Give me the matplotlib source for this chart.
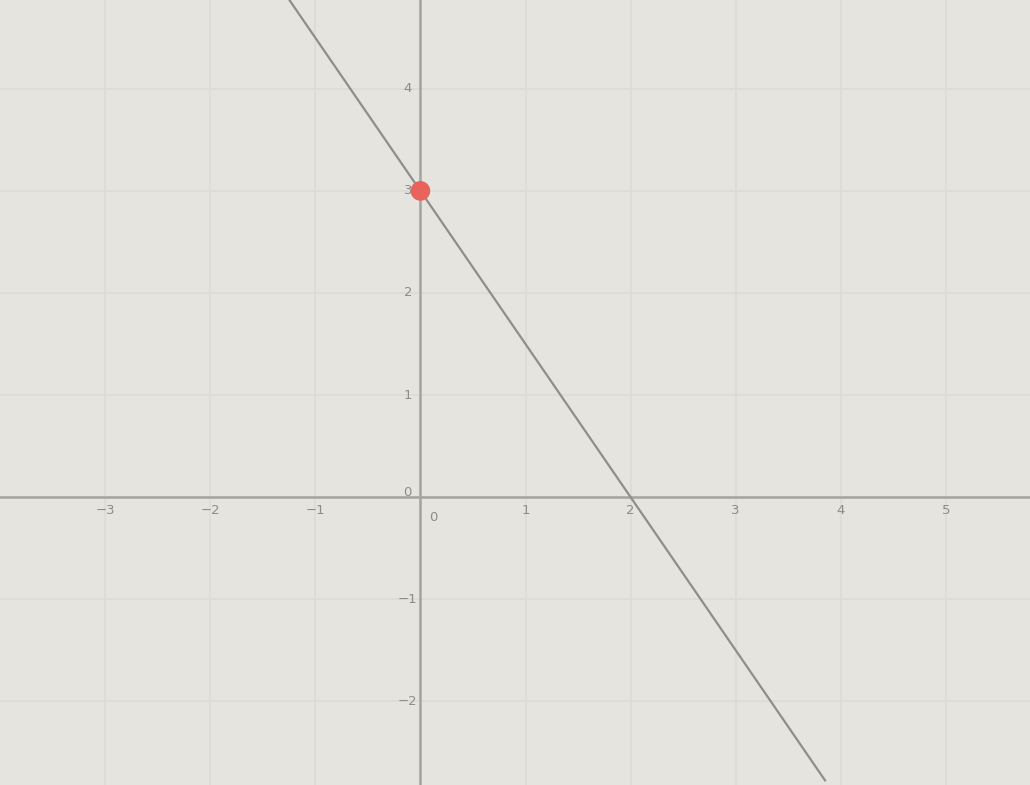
import matplotlib.pyplot as plt
import numpy as np

# data
x_ticks = [-3, -2, -1, 0, 1, 2, 3, 4, 5]
y_ticks = [-2, -1, 1, 2, 3, 4]
slope = -1.5
intercept = 3
line_x = [-1.25, 3.85]
point_x = [0]
point_y = [3]

bg = '#e5e4df'
grid_col = '#dcdcd7'
axis_col = '#a3a3a0'
text_col = '#8c8c8a'

fig = plt.figure(figsize=(10.3, 7.85), dpi=100)
fig.patch.set_facecolor(bg)
ax = fig.add_axes([0, 0, 1, 1])
ax.set_facecolor(bg)

ax.set_xlim(-4.0, 5.8)
ax.set_ylim(-2.82, 4.87)

# faint grid
for gx in range(-3, 6):
    ax.axvline(gx, color=grid_col, lw=1.2, zorder=1)
for gy in range(-2, 5):
    ax.axhline(gy, color=grid_col, lw=1.2, zorder=1)

# axes
ax.axhline(0, color=axis_col, lw=1.8, zorder=2)
ax.axvline(0, color=axis_col, lw=1.8, zorder=2)

for t in x_ticks:
    if t == 0:
        ax.text(0.12, -0.2, '0', color=text_col, fontsize=9.5, ha='center', va='center', zorder=3)
    else:
        ax.text(t, -0.13, str(t).replace('-', '\u2212'), color=text_col, fontsize=9.5,
                ha='center', va='center', zorder=3)
ax.text(-0.12, 0.05, '0', color=text_col, fontsize=9.5, ha='center', va='center', zorder=3)
for t in y_ticks:
    ax.text(-0.12, t, str(t).replace('-', '\u2212'), color=text_col, fontsize=9.5,
            ha='center', va='center', zorder=3)

# the line y = -1.5x + 3
lx = np.array(line_x)
ax.plot(lx, slope * lx + intercept, color='#8e8e8b', lw=1.6, zorder=4)

# point on y axis
ax.scatter(point_x, point_y, s=200, color='#e9625c', edgecolors='none', zorder=5)

ax.set_xticks([])
ax.set_yticks([])
for s in ax.spines.values():
    s.set_visible(False)

plt.savefig('out.png', dpi=100, facecolor=bg)
